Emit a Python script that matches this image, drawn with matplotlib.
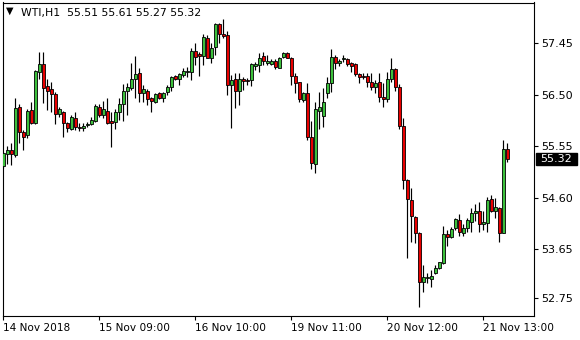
import matplotlib
matplotlib.use("Agg")
import matplotlib.pyplot as plt
from matplotlib.patches import Rectangle
from matplotlib.transforms import blended_transform_factory
import numpy as np

# WTI H1 candles
opens = [
    55.19, 55.41, 55.49, 55.39, 56.28, 55.82, 55.76, 56.22, 55.98, 56.92,
    57.07, 56.67, 56.61, 56.52, 56.15, 56.19, 55.98, 55.87, 56.08, 55.91,
    55.89, 55.95, 55.96, 56.02, 56.28, 56.13, 56.20, 56.02, 56.00, 56.19,
    56.33, 56.57, 56.63, 56.80, 56.91, 56.54, 56.57, 56.44, 56.37, 56.54,
    56.44, 56.55, 56.65, 56.85, 56.80, 56.87, 56.92, 56.92, 57.31, 57.26,
    57.22, 57.55, 57.18, 57.39, 57.81, 57.63, 57.61, 56.68, 56.80, 56.57,
    56.80, 56.78, 56.78, 57.03, 57.05, 57.22, 57.09, 57.07, 57.13, 57.00,
    57.20, 57.27, 57.18, 56.85, 56.74, 56.41, 56.54, 55.73, 55.23, 56.20,
    56.11, 56.54, 56.72, 57.20, 57.09, 57.17, 57.17, 57.09, 57.07, 56.89,
    56.85, 56.85, 56.74, 56.65, 56.74, 56.46, 56.43, 56.80, 56.98, 56.65,
    55.93, 54.93, 54.56, 54.25, 53.95, 53.05, 53.12, 53.10, 53.22, 53.31,
    53.40, 53.93, 53.88, 54.05, 54.19, 53.95, 54.05, 54.16, 54.32, 54.36,
    54.12, 54.14, 54.58, 54.36, 54.41, 53.95, 55.51,
]
highs = [
    55.45, 55.56, 55.61, 56.44, 56.33, 55.85, 56.24, 56.37, 56.96, 57.29,
    57.29, 56.80, 56.74, 56.55, 56.28, 56.20, 56.00, 56.13, 56.19, 55.98,
    55.98, 56.00, 56.09, 56.33, 56.33, 56.39, 56.44, 56.19, 56.24, 56.44,
    56.70, 56.72, 57.09, 57.22, 57.00, 56.68, 56.61, 56.46, 56.54, 56.55,
    56.55, 56.68, 56.85, 56.87, 56.91, 57.00, 57.02, 57.37, 57.46, 57.29,
    57.63, 57.61, 57.46, 57.83, 57.83, 57.90, 57.68, 56.87, 56.91, 56.91,
    56.83, 56.81, 57.09, 57.11, 57.27, 57.29, 57.24, 57.17, 57.17, 57.20,
    57.29, 57.29, 57.20, 56.91, 56.74, 56.55, 56.72, 56.02, 56.37, 56.55,
    56.63, 56.83, 57.35, 57.24, 57.17, 57.24, 57.18, 57.11, 57.09, 56.91,
    56.91, 56.91, 56.91, 56.78, 56.91, 56.72, 56.92, 57.18, 57.00, 56.70,
    56.08, 54.95, 54.78, 54.27, 53.97, 53.36, 53.22, 53.27, 53.36, 53.42,
    54.08, 54.01, 54.06, 54.23, 54.30, 54.12, 54.23, 54.41, 54.49, 54.53,
    54.36, 54.62, 54.65, 54.60, 54.43, 55.67, 55.61,
]
lows = [
    55.15, 55.23, 55.21, 55.36, 55.61, 55.49, 55.71, 55.96, 55.96, 56.80,
    56.35, 56.22, 56.19, 55.96, 56.09, 55.73, 55.82, 55.85, 55.85, 55.84,
    55.84, 55.91, 55.95, 56.00, 56.09, 56.08, 55.96, 55.54, 55.87, 56.04,
    56.02, 56.13, 56.59, 56.44, 56.37, 56.37, 56.31, 56.19, 56.35, 56.43,
    56.37, 56.50, 56.57, 56.78, 56.68, 56.83, 56.83, 56.78, 57.05, 56.85,
    57.05, 57.18, 57.09, 57.24, 57.46, 57.55, 56.50, 55.89, 56.26, 56.31,
    56.59, 56.68, 56.67, 56.96, 56.92, 57.05, 57.05, 57.05, 56.98, 57.00,
    57.18, 57.18, 56.68, 56.54, 56.37, 56.37, 55.67, 55.13, 55.06, 55.87,
    55.91, 56.44, 56.55, 56.98, 57.03, 57.11, 57.03, 56.92, 56.85, 56.72,
    56.80, 56.65, 56.59, 56.54, 56.37, 56.28, 56.37, 56.74, 56.57, 55.87,
    54.76, 53.49, 53.79, 53.77, 52.59, 52.87, 53.03, 52.96, 53.20, 53.29,
    53.38, 53.71, 53.86, 54.01, 53.90, 53.90, 53.97, 53.97, 54.18, 53.97,
    54.01, 53.97, 54.34, 54.23, 53.79, 53.95, 55.27,
]
closes = [
    55.43, 55.49, 55.41, 56.26, 55.82, 55.73, 56.20, 55.98, 56.94, 57.07,
    56.63, 56.57, 56.52, 56.15, 56.24, 55.98, 55.89, 56.09, 55.91, 55.89,
    55.93, 55.96, 56.04, 56.30, 56.13, 56.24, 55.98, 55.98, 56.19, 56.33,
    56.57, 56.65, 56.80, 56.89, 56.54, 56.61, 56.43, 56.39, 56.52, 56.44,
    56.54, 56.65, 56.83, 56.80, 56.89, 56.94, 56.94, 57.31, 57.20, 57.22,
    57.57, 57.18, 57.37, 57.81, 57.63, 57.59, 56.68, 56.78, 56.57, 56.80,
    56.76, 56.76, 57.07, 57.07, 57.18, 57.13, 57.13, 57.13, 57.02, 57.18,
    57.27, 57.18, 56.85, 56.72, 56.43, 56.54, 55.73, 55.24, 56.24, 56.28,
    56.37, 56.72, 57.20, 57.09, 57.13, 57.18, 57.07, 57.03, 56.89, 56.83,
    56.83, 56.74, 56.65, 56.72, 56.46, 56.43, 56.80, 56.98, 56.65, 55.93,
    54.93, 54.58, 54.27, 53.95, 53.05, 53.14, 53.14, 53.16, 53.31, 53.42,
    53.93, 53.88, 54.03, 54.21, 53.97, 54.05, 54.19, 54.32, 54.36, 54.12,
    54.16, 54.56, 54.36, 54.43, 53.95, 55.50, 55.32,
]

price_ticks = [57.45, 56.50, 55.55, 54.60, 53.65, 52.75]
time_tick_bars = [0, 24, 48, 72, 96, 120]
time_tick_labels = ["14 Nov 2018", "15 Nov 09:00", "16 Nov 10:00",
                    "19 Nov 11:00", "20 Nov 12:00", "21 Nov 13:00"]
symbol = "WTI,H1"

UP = "#3cc03c"
DOWN = "#e80000"

o = np.array(opens)
h = np.array(highs)
l = np.array(lows)
c = np.array(closes)
x = np.arange(len(o))

fig = plt.figure(figsize=(5.8, 3.4), dpi=100)
ax = fig.add_axes([2.5 / 580, 1 - 316 / 340, 531.5 / 580, 313.5 / 340])

ax.vlines(x, l, h, color="black", linewidth=0.85, zorder=2)
body_bottom = np.minimum(o, c)
body_height = np.maximum(np.abs(c - o), 0.004)
colors = [UP if cc >= oo else DOWN for oo, cc in zip(o, c)]
ax.bar(x, body_height, bottom=body_bottom, width=0.7, color=colors,
       edgecolor="black", linewidth=0.6, zorder=3)

ax.set_xlim(-0.2, 132.7)
ax.set_ylim(52.42, 58.206)

ax.yaxis.tick_right()
ax.set_yticks(price_ticks)
ax.set_yticklabels([f"{p:.2f}" for p in price_ticks])
ax.set_xticks(time_tick_bars)
ax.set_xticklabels(time_tick_labels)
for lab in ax.get_xticklabels():
    lab.set_horizontalalignment("left")
ax.tick_params(axis="y", direction="out", length=3, width=0.8,
               labelsize=8, pad=2.5)
ax.tick_params(axis="x", direction="out", length=3, width=0.8,
               labelsize=7.6, pad=2)
for s in ax.spines.values():
    s.set_linewidth(0.8)

# header
fig.text(10 / 580, 1 - 11 / 340, "\u25bc", fontsize=7, ha="center", va="center")
fig.text(21 / 580, 1 - 13 / 340,
         f"{symbol}  {opens[-1]:.2f} {highs[-1]:.2f} {lows[-1]:.2f} {closes[-1]:.2f}",
         fontsize=7.8, va="center", ha="left")

# current price marker on the right scale
trans = blended_transform_factory(ax.transAxes, ax.transData)
y0, y1 = ax.get_ylim()
box_h = 11.5 * (y1 - y0) / 313.5
ax.add_patch(Rectangle((1.0038, closes[-1] - box_h / 2), 0.077, box_h,
                       transform=trans, color="black", clip_on=False, zorder=5))
ax.text(1.0125, closes[-1], f"{closes[-1]:.2f}", transform=trans, color="white",
        fontsize=8, va="center", ha="left", zorder=6)

fig.savefig("out.png", dpi=100)
